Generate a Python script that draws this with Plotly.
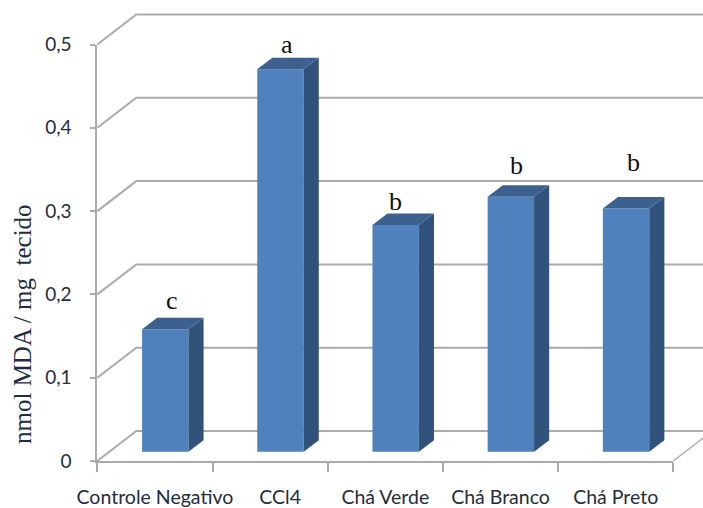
import plotly.graph_objects as go

# Lipid peroxidation per treatment group
categories = ["Controle Negativo", "CCl4", "Chá Verde", "Chá Branco", "Chá Preto"]
mda_values = [0.147, 0.459, 0.272, 0.306, 0.292]
letters = ["c", "a", "b", "b", "b"]
y_ticks = [0, 0.1, 0.2, 0.3, 0.4, 0.5]
y_tick_labels = ["0", "0,1", "0,2", "0,3", "0,4", "0,5"]

# Page layout of the front plane, in pixels
W, H = 703, 508
AX_L, AX_R, AX_T, AX_B = 97.3, 673.3, 44.5, 461.0
PX_PER_CAT = (AX_R - AX_L) / len(categories)
PX_PER_UNIT = (AX_B - AX_T) / 0.5

# Oblique projection of the chart box, in axis units
WALL_DX, WALL_DY = 39 / PX_PER_CAT, 30 / PX_PER_UNIT
BAR_WIDTH, BAR_SHIFT = 0.403, 0.09
BAR_BASE = 0.0112
BAR_DX, BAR_DY = 0.131, 0.0138

GRID = "#ababab"
FRONT, SIDE, TOP = "#4f81bd", "#31527a", "#3c618f"
TEXT = "#1f2d3d"
SANS, SERIF = "Lato", "Liberation Serif"

xmin, xmax = -0.5, len(categories) - 0.5
fig = go.Figure()

# The walls live on hidden axes spanning the page, so they can run past the front plane
wall_kw = dict(mode="lines", xaxis="x", yaxis="y", hoverinfo="skip", showlegend=False)
for t in y_ticks:
    fig.add_trace(go.Scatter(
        x=[xmin, xmin + WALL_DX, xmax + WALL_DX], y=[t, t + WALL_DY, t + WALL_DY],
        line=dict(color=GRID, width=2), **wall_kw))
fig.add_trace(go.Scatter(
    x=[xmax, xmax + WALL_DX], y=[0, WALL_DY], line=dict(color=GRID, width=1.5), **wall_kw))

centers = [i + BAR_SHIFT for i in range(len(categories))]

# Front faces of the columns
fig.add_trace(go.Bar(
    x=centers, y=mda_values, base=BAR_BASE, width=BAR_WIDTH,
    marker=dict(color=FRONT, line=dict(width=0)),
    xaxis="x2", yaxis="y2", showlegend=False))


def face(points, color):
    xs, ys = zip(*points)
    fig.add_trace(go.Scatter(
        x=list(xs) + [xs[0]], y=list(ys) + [ys[0]], mode="lines", fill="toself",
        fillcolor=color, line=dict(color=color, width=0),
        xaxis="x2", yaxis="y2", hoverinfo="skip", showlegend=False))


# Side and top faces follow from each column's value
for c, v in zip(centers, mda_values):
    left, right = c - BAR_WIDTH / 2, c + BAR_WIDTH / 2
    bottom, top = BAR_BASE, BAR_BASE + v
    face([(right, bottom), (right + BAR_DX, bottom + BAR_DY),
          (right + BAR_DX, top + BAR_DY), (right, top)], SIDE)
    face([(left, top), (right, top),
          (right + BAR_DX, top + BAR_DY), (left + BAR_DX, top + BAR_DY)], TOP)

# Significance letters, placed by hand above the columns
label_nudges = [(17, 29), (17, 25), (10, 24), (16, 31), (18, 46)]
for i, (letter, v, (dx, dy)) in enumerate(zip(letters, mda_values, label_nudges)):
    fig.add_annotation(
        x=i, y=BAR_BASE + v, xref="x2", yref="y2", text=letter, showarrow=False,
        xshift=dx, yshift=dy, font=dict(family=SERIF, size=26, color="#111111"))

fig.add_annotation(
    text="nmol MDA / mg  tecido", xref="paper", yref="paper", x=22 / W, y=1 - 324 / H,
    xanchor="center", yanchor="middle",
    textangle=-90, showarrow=False, font=dict(family=SERIF, size=25, color=TEXT))

# CCl4 sits a little right of its slot
label_positions = [0, 1.087, 2, 3, 4]

fig.update_layout(
    width=W, height=H, autosize=False,
    margin=dict(l=0, r=0, t=0, b=0),
    paper_bgcolor="white", plot_bgcolor="rgba(0,0,0,0)",
    font=dict(family=SANS, color=TEXT),
    xaxis=dict(
        domain=[0, 1], visible=False, anchor="y",
        range=[xmin - AX_L / PX_PER_CAT, xmax + (W - AX_R) / PX_PER_CAT]),
    yaxis=dict(
        domain=[0, 1], visible=False, anchor="x",
        range=[-(H - AX_B) / PX_PER_UNIT, 0.5 + AX_T / PX_PER_UNIT]),
    xaxis2=dict(
        domain=[AX_L / W, AX_R / W], anchor="y2", automargin=False,
        range=[xmin, xmax], tickmode="array",
        tickvals=label_positions, ticktext=categories,
        ticks="", showgrid=False, zeroline=False,
        showline=True, linecolor=GRID, linewidth=2,
        tickfont=dict(family=SANS, size=19.5, color=TEXT),
        ticklabelstandoff=18,
        minor=dict(tickmode="array", tickvals=[k - 0.5 for k in range(len(categories) + 1)],
                   ticks="outside", ticklen=9, tickcolor=GRID, tickwidth=1.5, showgrid=False)),
    yaxis2=dict(
        domain=[1 - AX_B / H, 1 - AX_T / H], anchor="x2", automargin=False,
        range=[0, 0.5], tickmode="array", tickvals=y_ticks, ticktext=y_tick_labels,
        ticks="outside", ticklen=5, tickcolor=GRID, tickwidth=1.5,
        showgrid=False, zeroline=False,
        showline=True, linecolor=GRID, linewidth=2,
        tickfont=dict(family=SANS, size=19, color=TEXT),
        ticklabelstandoff=15),
)

fig.write_html("out.html")
